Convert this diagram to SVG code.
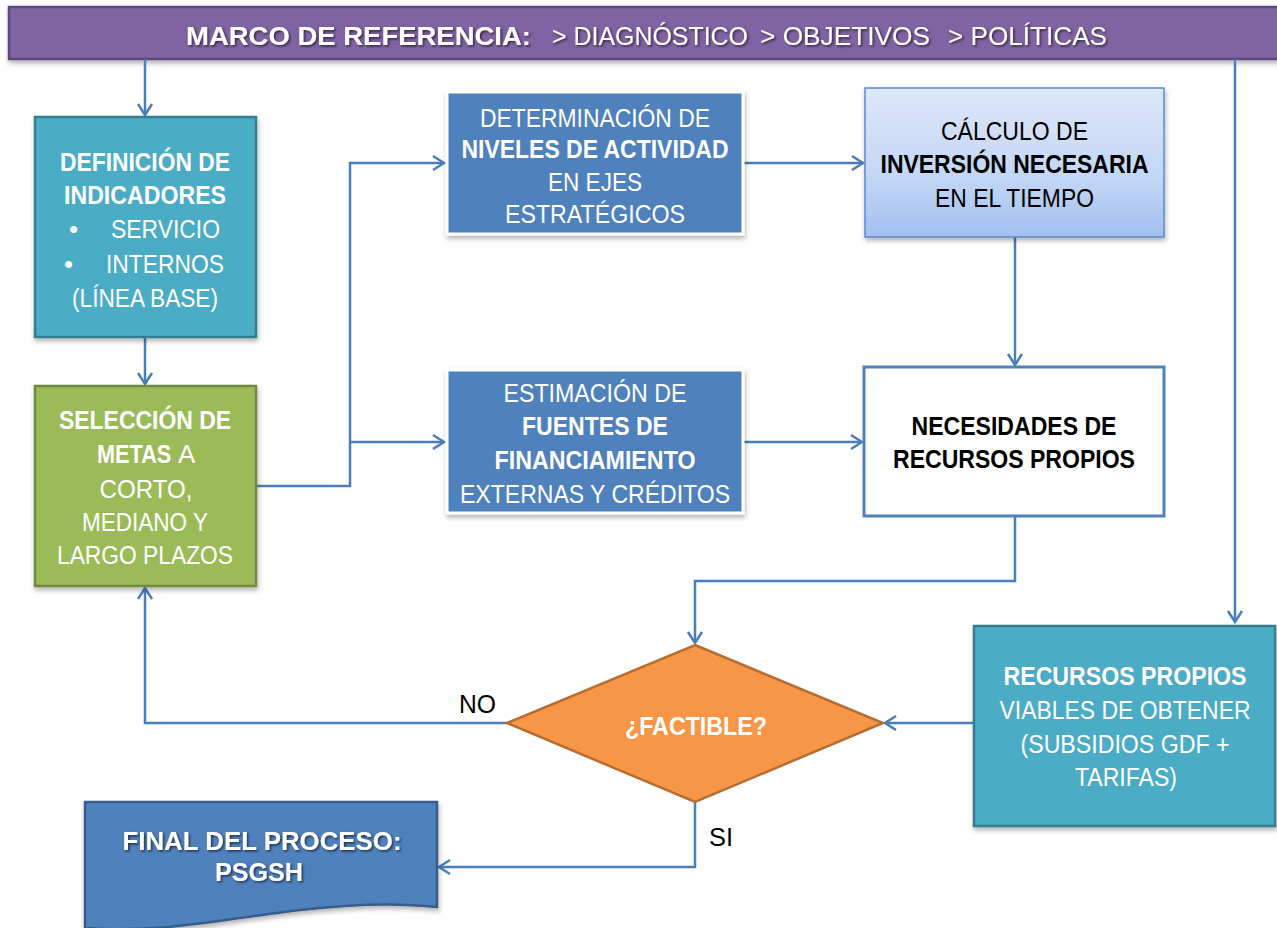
<svg xmlns="http://www.w3.org/2000/svg" width="1277" height="928" viewBox="0 0 1277 928">
<style>
text{font-family:"Liberation Sans",Arial,sans-serif;font-size:26px;text-anchor:middle}
.w{fill:#ffffff}
.k{fill:#000000}
.b{font-weight:bold}
.st{text-anchor:start}
.con{fill:none;stroke:#4A7EBB;stroke-width:2.5;marker-end:url(#arr)}
</style>
<defs>
<marker id="arr" markerUnits="userSpaceOnUse" viewBox="-2 -9 16 18" refX="11" refY="0" markerWidth="16" markerHeight="18" orient="auto">
<path d="M0,-7 L11,0 L0,7" fill="none" stroke="#4A7EBB" stroke-width="2.5" stroke-linejoin="miter"/>
</marker>
<filter id="sh" x="-10%" y="-10%" width="125%" height="130%">
<feDropShadow dx="1" dy="3" stdDeviation="2.5" flood-color="#000000" flood-opacity="0.3"/>
</filter>
<filter id="tsh" x="-10%" y="-30%" width="120%" height="160%">
<feDropShadow dx="1.5" dy="1.5" stdDeviation="1" flood-color="#000000" flood-opacity="0.6"/>
</filter>
<linearGradient id="gcalc" x1="0" y1="0" x2="0" y2="1">
<stop offset="0" stop-color="#DDE7F8"/>
<stop offset="0.6" stop-color="#C3D6F5"/>
<stop offset="1" stop-color="#A2C0F0"/>
</linearGradient>
</defs>

<g id="banner">
<rect x="9" y="7" width="1290" height="52" fill="#8064A2" stroke="#5C4A7A" stroke-width="2.5" filter="url(#sh)"/>
<g filter="url(#tsh)" style="font-size:30px">
<text class="w b st" x="186" y="45" textLength="345" lengthAdjust="spacingAndGlyphs">MARCO DE REFERENCIA:</text>
<text class="w st" x="552" y="45" textLength="196" lengthAdjust="spacingAndGlyphs">&gt; DIAGNÓSTICO</text>
<text class="w st" x="760" y="45" textLength="170" lengthAdjust="spacingAndGlyphs">&gt; OBJETIVOS</text>
<text class="w st" x="948" y="45" textLength="159" lengthAdjust="spacingAndGlyphs">&gt; POLÍTICAS</text>
</g>
</g>

<g id="connectors">
<path class="con" d="M145,59 V115"/>
<path class="con" d="M145,337 V384"/>
<path class="con" d="M256,486 H350 V163 H444"/>
<path class="con" d="M350,442 H444"/>
<path class="con" d="M743,163 H863"/>
<path class="con" d="M1015,237 V365"/>
<path class="con" d="M743,442 H862"/>
<path class="con" d="M1015,516 V581 H695 V643"/>
<path class="con" d="M1235,59 V622"/>
<path class="con" d="M974,723 H885"/>
<path class="con" d="M507,723 H145 V588"/>
<path class="con" d="M695,802 V867 H439"/>
</g>

<g id="definicion">
<rect x="35" y="117" width="221" height="220" fill="#4BACC6" stroke="#357D91" stroke-width="2.5" filter="url(#sh)"/>
<text class="w b" x="145" y="171" textLength="170" lengthAdjust="spacingAndGlyphs">DEFINICIÓN DE</text>
<text class="w b" x="145" y="204" textLength="162" lengthAdjust="spacingAndGlyphs">INDICADORES</text>
<text class="w st" x="69" y="238">•</text>
<text class="w st" x="111" y="238" textLength="109" lengthAdjust="spacingAndGlyphs">SERVICIO</text>
<text class="w st" x="64" y="273">•</text>
<text class="w st" x="106" y="273" textLength="118" lengthAdjust="spacingAndGlyphs">INTERNOS</text>
<text class="w" x="145" y="307" textLength="146" lengthAdjust="spacingAndGlyphs">(LÍNEA BASE)</text>
</g>

<g id="seleccion">
<rect x="35" y="386" width="221" height="200" fill="#9BBB59" stroke="#71893F" stroke-width="2.5" filter="url(#sh)"/>
<text class="w b" x="145" y="429" textLength="172" lengthAdjust="spacingAndGlyphs">SELECCIÓN DE</text>
<text class="w b st" x="0" y="0" transform="matrix(0.835,0,0,1,97,463)">METAS</text>
<text class="w st" x="178" y="463">A</text>
<text class="w" x="146" y="498" textLength="93" lengthAdjust="spacingAndGlyphs">CORTO,</text>
<text class="w" x="145" y="531" textLength="126" lengthAdjust="spacingAndGlyphs">MEDIANO Y</text>
<text class="w" x="145" y="564" textLength="176" lengthAdjust="spacingAndGlyphs">LARGO PLAZOS</text>
</g>

<g id="determinacion">
<rect x="447" y="92" width="296" height="142" fill="#4F81BD" stroke="#ffffff" stroke-width="3" filter="url(#sh)"/>
<text class="w" x="595" y="127" textLength="230" lengthAdjust="spacingAndGlyphs">DETERMINACIÓN DE</text>
<text class="w b" x="595" y="158" textLength="267" lengthAdjust="spacingAndGlyphs">NIVELES DE ACTIVIDAD</text>
<text class="w" x="595" y="191" textLength="94" lengthAdjust="spacingAndGlyphs">EN EJES</text>
<text class="w" x="595" y="223" textLength="180" lengthAdjust="spacingAndGlyphs">ESTRATÉGICOS</text>
</g>

<g id="estimacion">
<rect x="447" y="370" width="296" height="143" fill="#4F81BD" stroke="#ffffff" stroke-width="3" filter="url(#sh)"/>
<text class="w" x="595" y="402" textLength="183" lengthAdjust="spacingAndGlyphs">ESTIMACIÓN DE</text>
<text class="w b" x="595" y="435" textLength="146" lengthAdjust="spacingAndGlyphs">FUENTES DE</text>
<text class="w b" x="595" y="469" textLength="201" lengthAdjust="spacingAndGlyphs">FINANCIAMIENTO</text>
<text class="w" x="595" y="503" textLength="270" lengthAdjust="spacingAndGlyphs">EXTERNAS Y CRÉDITOS</text>
</g>

<g id="calculo">
<rect x="865" y="88" width="299" height="149" fill="url(#gcalc)" stroke="#5B8BD0" stroke-width="1.5" filter="url(#sh)"/>
<text class="k" x="1014.5" y="140" textLength="147" lengthAdjust="spacingAndGlyphs">CÁLCULO DE</text>
<text class="k b" x="1014.5" y="173" textLength="268" lengthAdjust="spacingAndGlyphs">INVERSIÓN NECESARIA</text>
<text class="k" x="1014.5" y="207" textLength="159" lengthAdjust="spacingAndGlyphs">EN EL TIEMPO</text>
</g>

<g id="necesidades">
<rect x="864" y="367" width="300" height="149" fill="#ffffff" stroke="#4F81BD" stroke-width="3"/>
<text class="k b" x="1014" y="435" textLength="205" lengthAdjust="spacingAndGlyphs">NECESIDADES DE</text>
<text class="k b" x="1014" y="468" textLength="242" lengthAdjust="spacingAndGlyphs">RECURSOS PROPIOS</text>
</g>

<g id="recursos">
<rect x="974" y="626" width="301" height="200" fill="#4BACC6" stroke="#357D91" stroke-width="2.5" filter="url(#sh)"/>
<text class="w b" x="1125" y="685" style="font-size:25px" textLength="243" lengthAdjust="spacingAndGlyphs">RECURSOS PROPIOS</text>
<text class="w" x="1125" y="719" style="font-size:25px" textLength="251" lengthAdjust="spacingAndGlyphs">VIABLES DE OBTENER</text>
<text class="w" x="1125" y="753" style="font-size:25px" textLength="209" lengthAdjust="spacingAndGlyphs">(SUBSIDIOS GDF +</text>
<text class="w" x="1126" y="786" style="font-size:25px" textLength="102" lengthAdjust="spacingAndGlyphs">TARIFAS)</text>
</g>

<g id="factible">
<polygon points="695,645 883,723 695,802 507,723" fill="#F79646" stroke="#B66D31" stroke-width="2.5"/>
<text class="w b" x="696" y="735" textLength="142" lengthAdjust="spacingAndGlyphs">¿FACTIBLE?</text>
</g>

<g id="labels">
<text class="k st" x="459" y="713" textLength="37" lengthAdjust="spacingAndGlyphs">NO</text>
<text class="k st" x="709" y="846" textLength="24" lengthAdjust="spacingAndGlyphs">SI</text>
</g>

<g id="final">
<path d="M85,802 H437 V907 C400,903 350,904 300,910 C230,918 160,934 85,928 Z" fill="#4F81BD" stroke="#385D8A" stroke-width="2.5" filter="url(#sh)"/>
<g filter="url(#tsh)">
<text class="w b" x="262" y="850" textLength="279" lengthAdjust="spacingAndGlyphs">FINAL DEL PROCESO:</text>
<text class="w b" x="259" y="881" textLength="88" lengthAdjust="spacingAndGlyphs">PSGSH</text>
</g>
</g>
</svg>
